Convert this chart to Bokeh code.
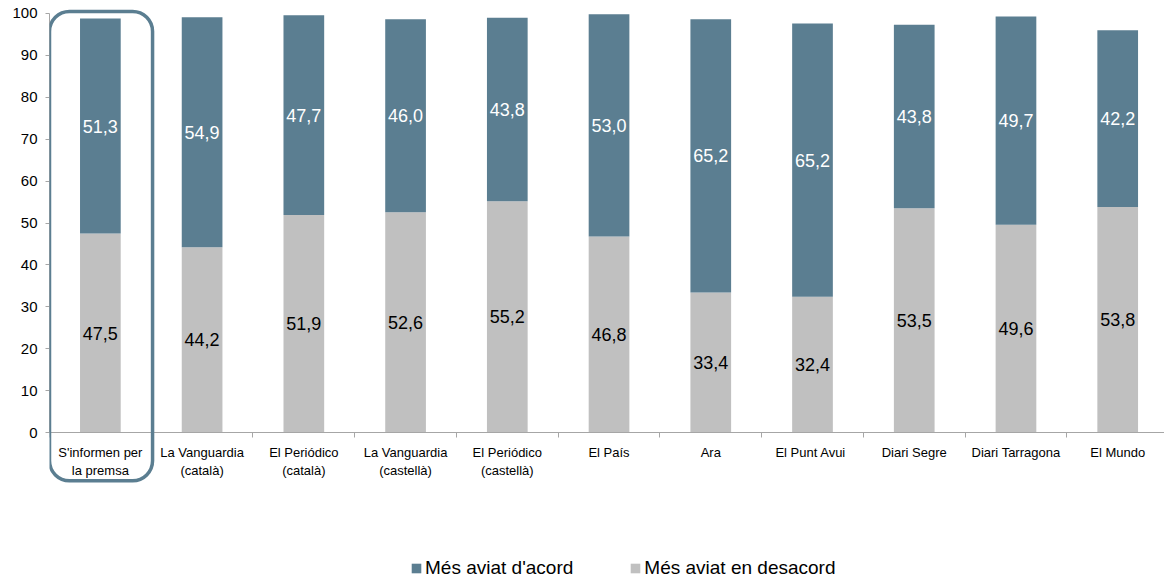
from bokeh.plotting import figure
from bokeh.models import (ColumnDataSource, Range1d, FixedTicker, BoxAnnotation,
                          Legend, LegendItem, LabelSet)
from bokeh.core.properties import value
from bokeh.embed import file_html
from bokeh.resources import INLINE

categories = ["S'informen per\nla premsa", "La Vanguardia\n(català)", "El Periódico\n(català)",
              "La Vanguardia\n(castellà)", "El Periódico\n(castellà)", "El País", "Ara",
              "El Punt  Avui", "Diari Segre", "Diari Tarragona", "El Mundo"]
acord = [51.3, 54.9, 47.7, 46.0, 43.8, 53.0, 65.2, 65.2, 43.8, 49.7, 42.2]
desacord = [47.5, 44.2, 51.9, 52.6, 55.2, 46.8, 33.4, 32.4, 53.5, 49.6, 53.8]
y_ticks = list(range(0, 101, 10))
series_names = ["Més aviat d'acord", "Més aviat en desacord"]

DARK = "#5B7E91"
GREY = "#C0C0C0"
AXIS = "#A6A6A6"
FONT = "Liberation Sans"

n = len(categories)
centers = [i + 0.5 for i in range(n)]
bounds = [float(i) for i in range(n + 1)]
total = [a + d for a, d in zip(acord, desacord)]

src = ColumnDataSource(dict(
    x=centers, acord=acord, desacord=desacord, total=total,
    mid_d=[d / 2 for d in desacord],
    mid_a=[d + a / 2 for a, d in zip(acord, desacord)],
    lab_a=[f"{v:.1f}".replace(".", ",") for v in acord],
    lab_d=[f"{v:.1f}".replace(".", ",") for v in desacord],
))

p = figure(width=1164, height=580, output_backend="svg", toolbar_location=None,
           x_range=Range1d(0, 10.96), y_range=Range1d(-35.3, 103.1),
           min_border_left=49, min_border_right=0, min_border_top=0, min_border_bottom=0)
p.outline_line_color = None
p.xgrid.visible = False
p.ygrid.visible = False
p.background_fill_color = "white"
p.border_fill_color = "white"

r_d = p.vbar(x="x", top="desacord", bottom=0, width=0.4, source=src,
             fill_color=GREY, line_color=None)
r_a = p.vbar(x="x", top="total", bottom="desacord", width=0.4, source=src,
             fill_color=DARK, line_color=None)

p.add_layout(LabelSet(x="x", y="mid_a", text="lab_a", source=src, text_align="center",
                      text_baseline="middle", text_color="white",
                      text_font=value(FONT), text_font_size="18px"))
p.add_layout(LabelSet(x="x", y="mid_d", text="lab_d", source=src, text_align="center",
                      text_baseline="middle", text_color="black",
                      text_font=value(FONT), text_font_size="18px"))

# y axis
yax = p.yaxis[0]
yax.ticker = FixedTicker(ticks=y_ticks)
yax.bounds = (0, 100)
yax.axis_line_color = AXIS
yax.major_tick_line_color = AXIS
yax.major_tick_out = 4
yax.major_tick_in = 0
yax.minor_tick_line_color = None
yax.major_label_text_font = FONT
yax.major_label_text_font_size = "15px"
yax.major_label_text_color = "black"
yax.major_label_standoff = 8

# x axis
xax = p.xaxis[0]
xax.fixed_location = 0
xax.ticker = FixedTicker(ticks=centers, minor_ticks=bounds)
xax.major_label_overrides = {c: lab for c, lab in zip(centers, categories)}
xax.axis_line_color = AXIS
xax.major_tick_line_color = None
xax.major_tick_out = 0
xax.major_tick_in = 0
xax.minor_tick_line_color = AXIS
xax.minor_tick_out = 5
xax.minor_tick_in = 0
xax.major_label_text_font = FONT
xax.major_label_text_font_size = "13px"
xax.major_label_text_color = "black"
xax.major_label_standoff = 7

# highlight box around first category
p.add_layout(BoxAnnotation(left=0.0, right=1.013, bottom=-11.5, top=100.5,
                           fill_color=None, fill_alpha=0, line_color=DARK, line_alpha=1.0,
                           line_width=3.5, border_radius=20))

legend = Legend(items=[LegendItem(label=series_names[0], renderers=[r_a]),
                       LegendItem(label=series_names[1], renderers=[r_d])],
                location=(361, 1), orientation="horizontal",
                glyph_width=12, glyph_height=12, label_standoff=3, spacing=56,
                padding=0, margin=0, border_line_color=None, background_fill_alpha=0,
                label_text_font=FONT, label_text_font_size="19px", label_text_color="black")
p.add_layout(legend, "center")

open("out.html", "w").write(file_html(p, INLINE))
